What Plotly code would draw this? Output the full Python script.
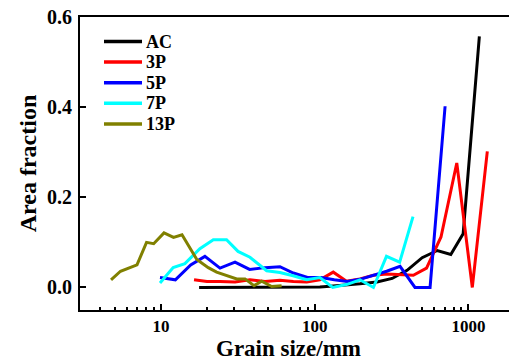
import plotly.graph_objects as go

# ---- data ----
ac_x = [17.7, 24.2, 37.9, 59.4, 88.7, 108, 132, 161, 197, 254, 319, 399, 500, 627, 768, 924, 1178]
ac_y = [0.0, 0.0, 0.0, 0.0, 0.0, 0.001, 0.003, 0.005, 0.008, 0.012, 0.02, 0.038, 0.066, 0.082, 0.073, 0.119, 0.557]

p3_x = [16.4, 19.9, 24.2, 30.3, 37.9, 47.5, 59.4, 72.6, 88.7, 108, 132, 161, 197, 241, 294, 359, 438, 534, 663, 840, 1060, 1327]
p3_y = [0.017, 0.013, 0.013, 0.012, 0.017, 0.013, 0.016, 0.013, 0.012, 0.017, 0.034, 0.014, 0.019, 0.027, 0.030, 0.029, 0.027, 0.043, 0.112, 0.276, 0.0, 0.302]

p5_x = [9.85, 12.4, 15.6, 19.3, 24.2, 30.3, 37.7, 47.5, 59.4, 72.6, 89.8, 110, 134, 163, 197, 241, 294, 359, 449, 563, 705]
p5_y = [0.022, 0.017, 0.05, 0.069, 0.043, 0.056, 0.04, 0.044, 0.046, 0.032, 0.022, 0.022, 0.017, 0.013, 0.018, 0.027, 0.036, 0.047, 0.0, 0.0, 0.402]

p7_x = [9.85, 12.0, 14.3, 17.9, 21.9, 26.7, 31.7, 37.9, 48.7, 59.4, 72.3, 88.7, 108, 131, 163, 197, 241, 293, 357, 436]
p7_y = [0.01, 0.044, 0.053, 0.086, 0.106, 0.106, 0.08, 0.067, 0.037, 0.033, 0.026, 0.017, 0.022, 0.0, 0.007, 0.017, 0.0, 0.069, 0.056, 0.157]

p13_x = [4.73, 5.45, 6.98, 8.05, 8.96, 10.46, 12.06, 13.7, 17.1, 20.3, 23.0, 26.7, 31.1, 35.2, 40.3, 45.2, 52.5, 60.9]
p13_y = [0.017, 0.036, 0.05, 0.1, 0.097, 0.121, 0.111, 0.117, 0.062, 0.044, 0.034, 0.027, 0.019, 0.019, 0.004, 0.014, 0.002, 0.004]

names = ["AC", "3P", "5P", "7P", "13P"]
colors = ["#000000", "#FF0000", "#0000FF", "#00FFFF", "#808000"]
xs = [ac_x, p3_x, p5_x, p7_x, p13_x]
ys = [ac_y, p3_y, p5_y, p7_y, p13_y]

x_tick_vals = [10, 100, 1000]
x_tick_text = ["10", "100", "1000"]
y_tick_vals = [0.0, 0.2, 0.4, 0.6]
y_tick_text = ["0.0", "0.2", "0.4", "0.6"]

FONT = "Liberation Serif"
W, H = 509, 363
ML, MR, MT, MB = 80, 0, 17, 53
PW, PH = W - ML - MR, H - MT - MB


def px_to_paper(px, py):
    return (px - ML) / PW, (H - MB - py) / PH


fig = go.Figure()
for n, c, x, y in zip(names, colors, xs, ys):
    fig.add_trace(go.Scatter(x=x, y=y, mode="lines", name=n,
                             line=dict(color=c, width=3), showlegend=False))

# manual legend (line samples + labels)
shapes, annotations = [], []
leg_top, leg_step = 41.5, 20.6
for i, (n, c) in enumerate(zip(names, colors)):
    yc = leg_top + i * leg_step
    x0, y0 = px_to_paper(104, yc)
    x1, _ = px_to_paper(142, yc)
    shapes.append(dict(type="line", xref="paper", yref="paper", x0=x0, x1=x1, y0=y0, y1=y0,
                       line=dict(color=c, width=3.5)))
    tx, _ = px_to_paper(144, yc)
    annotations.append(dict(xref="paper", yref="paper", x=tx, y=y0, xanchor="left", yanchor="middle",
                            text=n, showarrow=False,
                            font=dict(family=FONT, size=18, weight="bold", color="black")))

# x axis title
tx, ty = px_to_paper(288, 348.5)
annotations.append(dict(xref="paper", yref="paper", x=tx, y=ty, xanchor="center", yanchor="middle",
                        text="Grain size/mm", showarrow=False,
                        font=dict(family=FONT, size=23, weight="bold", color="black")))

fig.update_layout(
    width=W, height=H,
    margin=dict(l=ML, r=MR, t=MT, b=MB),
    paper_bgcolor="white", plot_bgcolor="white",
    font=dict(family=FONT, size=16, color="black", weight="bold"),
    showlegend=False,
    shapes=shapes, annotations=annotations,
    xaxis=dict(
        type="log", range=[0.473, 3.264],
        showline=True, linecolor="black", linewidth=2, mirror=True,
        ticks="inside", ticklen=6, tickwidth=2, tickcolor="black",
        tickvals=x_tick_vals, ticktext=x_tick_text,
        minor=dict(ticks="inside", ticklen=3, tickwidth=1.5, tickcolor="black", dtick="D1", showgrid=False),
        showgrid=False, zeroline=False,
        tickfont=dict(family=FONT, size=17, weight="bold"),
        ticklabelstandoff=0,
    ),
    yaxis=dict(
        range=[-0.05, 0.6],
        showline=True, linecolor="black", linewidth=2,
        ticks="inside", ticklen=6, tickwidth=2, tickcolor="black",
        tickvals=y_tick_vals, ticktext=y_tick_text,
        showgrid=False, zeroline=False,
        tickfont=dict(family=FONT, size=20, weight="bold"),
        ticklabelstandoff=2,
        title=dict(text="Area fraction", font=dict(family=FONT, size=24, weight="bold"), standoff=4),
    ),
)

fig.write_html("out.html")
